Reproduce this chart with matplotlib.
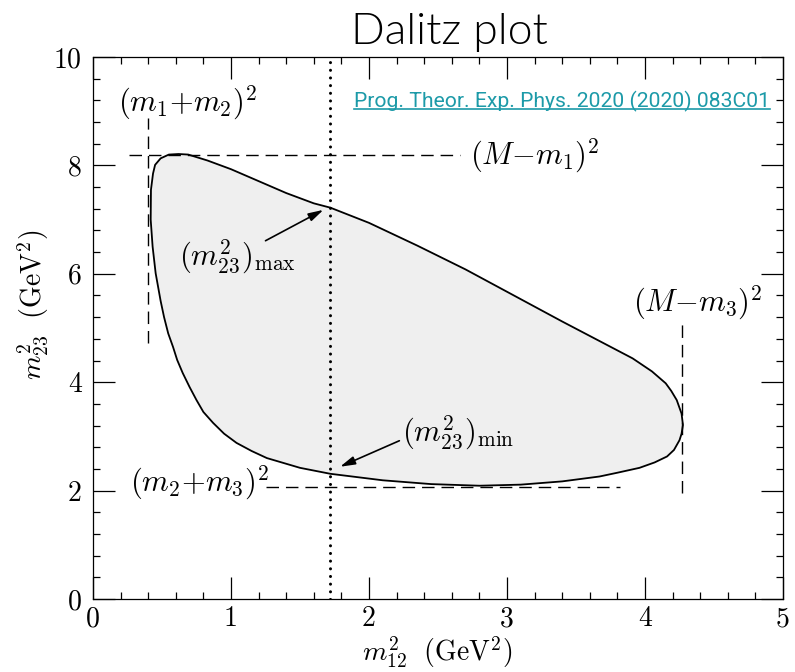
import matplotlib
matplotlib.use('Agg')
import matplotlib.pyplot as plt
from matplotlib.patches import Polygon
from matplotlib.lines import Line2D
from matplotlib.ticker import MultipleLocator

plt.rcParams['mathtext.fontset'] = 'cm'
plt.rcParams['axes.unicode_minus'] = False

# Dalitz boundary (m12^2, m23^2), going round the region
bound_x = [0.418, 0.42, 0.435, 0.45, 0.49, 0.55, 0.62, 0.69, 0.83, 1.00, 1.20, 1.40,
           1.60, 1.72, 2.00, 2.35, 2.70, 3.05, 3.40, 3.67, 3.91, 4.05, 4.15, 4.19,
           4.23, 4.265, 4.275, 4.265, 4.25, 4.21, 4.16, 4.07, 3.96, 3.80, 3.67, 3.40,
           3.10, 2.80, 2.45, 2.10, 1.72, 1.50, 1.26, 1.15, 1.04, 0.95, 0.87, 0.80,
           0.75, 0.70, 0.65, 0.61, 0.58, 0.545, 0.515, 0.49, 0.454, 0.432]
bound_y = [7.00, 7.55, 7.85, 8.01, 8.13, 8.20, 8.21, 8.20, 8.09, 7.93, 7.71, 7.49,
           7.30, 7.22, 6.94, 6.52, 6.08, 5.60, 5.12, 4.76, 4.44, 4.20, 3.98, 3.84,
           3.67, 3.42, 3.21, 3.05, 2.93, 2.75, 2.63, 2.52, 2.42, 2.33, 2.26, 2.17,
           2.11, 2.09, 2.12, 2.19, 2.31, 2.42, 2.60, 2.73, 2.88, 3.05, 3.25, 3.45,
           3.67, 3.91, 4.17, 4.41, 4.65, 4.90, 5.20, 5.50, 6.01, 6.50]

# kinematic limits
m12_min = 0.40      # (m1+m2)^2
m12_max = 4.27      # (M-m3)^2
m23_min = 2.07      # (m2+m3)^2
m23_max = 8.20      # (M-m1)^2
m12_cut = 1.72      # dotted slice

fig = plt.figure(figsize=(7.95, 6.72), dpi=100)
ax = fig.add_axes([93/795, 1 - 599/672, 690/795, 542/672])

ax.add_patch(Polygon(list(zip(bound_x, bound_y)), closed=True, facecolor='#efefef',
                     edgecolor='black', lw=1.3, joinstyle='round'))

dash = (0, (9, 5))
ax.plot([m12_min, m12_min], [4.72, 8.87], color='black', lw=1.0, ls=dash)
ax.plot([0.26, 2.66], [m23_max, m23_max], color='black', lw=1.0, ls=dash)
ax.plot([m12_max, m12_max], [1.95, 5.11], color='black', lw=1.0, ls=dash)
ax.plot([1.25, 3.82], [m23_min, m23_min], color='black', lw=1.0, ls=dash)
ax.plot([m12_cut, m12_cut], [0, 10], color='black', lw=2.2, ls=(0, (0.01, 2.5)),
        dash_capstyle='round')

fs = 22
ax.text(0.18, 9.15, r'$(m_1{+}m_2)^2$', fontsize=fs, ha='left', va='center')
ax.text(2.73, 8.18, r'$(M{-}m_1)^2$', fontsize=fs, ha='left', va='center')
ax.text(3.91, 5.46, r'$(M{-}m_3)^2$', fontsize=fs, ha='left', va='center')
ax.text(0.27, 2.14, r'$(m_2{+}m_3)^2$', fontsize=fs, ha='left', va='center')
ax.text(0.62, 6.31, r'$(m_{23}^2)_{\rm max}$', fontsize=fs, ha='left', va='center')
ax.text(2.24, 3.06, r'$(m_{23}^2)_{\rm min}$', fontsize=fs, ha='left', va='center')

arrow = dict(arrowstyle='-|>,head_length=0.9,head_width=0.25', color='black', lw=1.2,
             shrinkA=0, shrinkB=0)
ax.annotate('', xy=(1.67, 7.18), xytext=(1.25, 6.61), arrowprops=arrow)
ax.annotate('', xy=(1.79, 2.44), xytext=(2.22, 2.92), arrowprops=arrow)

ax.set_xlim(0, 5)
ax.set_ylim(0, 10)
ax.xaxis.set_major_locator(MultipleLocator(1))
ax.xaxis.set_minor_locator(MultipleLocator(0.2))
ax.yaxis.set_major_locator(MultipleLocator(2))
ax.yaxis.set_minor_locator(MultipleLocator(0.4))
ax.tick_params(which='both', direction='in', top=True, right=True, width=0.9)
ax.tick_params(which='major', length=16, pad=8)
ax.tick_params(axis='x', which='major', pad=5)
ax.tick_params(which='minor', length=5)
for s in ax.spines.values():
    s.set_linewidth(0.9)
for lbl in ax.get_xticklabels() + ax.get_yticklabels():
    lbl.set_fontfamily('cmr10')
    lbl.set_fontsize(20)

fig.text(437/795, 1 - 652/672, r'$m_{12}^2\ \ (\mathrm{GeV}^2)$', fontsize=20,
         ha='center', va='center')
fig.text(33/795, 1 - 305/672, r'$m_{23}^2\ \ (\mathrm{GeV}^2)$', fontsize=20,
         ha='center', va='center', rotation=90)

fig.text(449/795, 1 - 44/672, 'Dalitz plot', fontsize=32, family='Lato', weight=300,
         ha='center', va='baseline')

link = ax.text(0.981, 1 - (107 - 57)/542, 'Prog. Theor. Exp. Phys. 2020 (2020) 083C01',
               transform=ax.transAxes, fontsize=15.2, family='Roboto', color='#1c9aa8',
               ha='right', va='baseline')
fig.canvas.draw()
bb = link.get_window_extent().transformed(fig.transFigure.inverted())
fig.add_artist(Line2D([bb.x0, bb.x1], [bb.y0 + 0.004, bb.y0 + 0.004], color='#1c9aa8',
                      lw=1.2, transform=fig.transFigure))

fig.savefig('out.png', dpi=100)
